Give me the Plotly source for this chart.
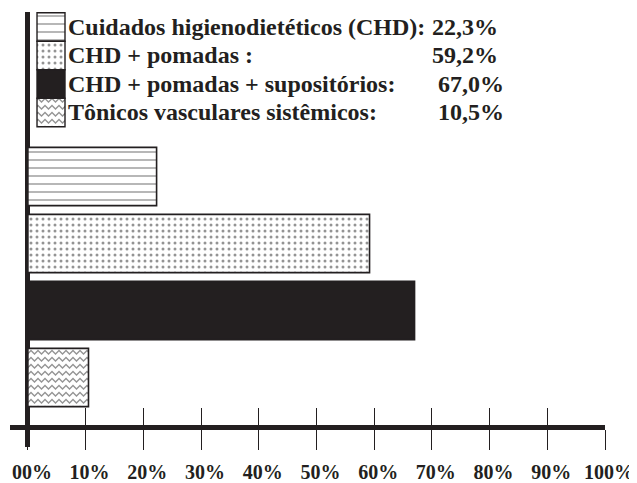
import plotly.graph_objects as go

# ---- data ----
categories = ["Cuidados higienodietéticos (CHD):", "CHD + pomadas :",
              "CHD + pomadas + supositórios:", "Tônicos vasculares sistêmicos:"]
values = [22.3, 59.2, 67.0, 10.5]
tick_values = [0, 10, 20, 30, 40, 50, 60, 70, 80, 90, 100]
tick_labels = ["00%", "10%", "20%", "30%", "40%", "50%", "60%", "70%", "80%", "90%", "100%"]

DARK = "#231f20"
FONT = "Liberation Serif"

wave_path = ("M0,1.5 L3.5,5 L7,1.5 L10.5,5 L14,1.5 L14,3.5 L10.5,7 L7,3.5 L3.5,7 L0,3.5 Z "
             "M0,8.5 L3.5,12 L7,8.5 L10.5,12 L14,8.5 L14,10.5 L10.5,14 L7,10.5 L3.5,14 L0,10.5 Z")


def make_patterns():
    pats = [
        dict(shape="-", size=8, solidity=0.17, fgcolor="#2a2a2a", bgcolor="white"),
        dict(shape=".", size=6, solidity=0.2, fgcolor="#2a2a2a", bgcolor="white"),
        dict(shape="", fgcolor=DARK, bgcolor=DARK),
    ]
    try:
        go.bar.marker.Pattern(path=wave_path, size=14, solidity=0.3)
        pats.append(dict(path=wave_path, size=14, solidity=0.3, fgcolor="#2a2a2a", bgcolor="white"))
    except Exception:
        pats.append(dict(shape="x", size=8, solidity=0.15, fgcolor="#444444", bgcolor="white"))
    return pats


patterns = make_patterns()
fills = ["white", "white", DARK, "white"]

fig = go.Figure()

# main bars
for i, (cat, val) in enumerate(zip(categories, values)):
    fig.add_trace(go.Bar(
        y=[cat], x=[val], orientation="h", base=0, width=0.87,
        marker=dict(color=fills[i], pattern=patterns[i],
                    line=dict(color=DARK, width=1.6)),
        showlegend=False, hoverinfo="skip", xaxis="x", yaxis="y",
    ))

# legend keys (swatches) drawn on an overlay axis
SW_BASE, SW_LEN = 1.58, 4.85
for i, cat in enumerate(categories):
    fig.add_trace(go.Bar(
        y=[cat], x=[SW_LEN], base=SW_BASE, orientation="h", width=1.0,
        marker=dict(color=fills[i], pattern=patterns[i],
                    line=dict(color=DARK, width=1.4)),
        showlegend=False, hoverinfo="skip", xaxis="x2", yaxis="y2",
    ))

annotations = []
value_right = [81.8, 81.8, 82.8, 82.8]
for i, (cat, val) in enumerate(zip(categories, values)):
    annotations.append(dict(
        x=6.65, y=cat, xref="x2", yref="y2", text=cat, showarrow=False,
        xanchor="left", yanchor="middle", yshift=0,
        font=dict(family=FONT, size=24, color=DARK, weight="bold"),
    ))
    annotations.append(dict(
        x=value_right[i], y=cat, xref="x2", yref="y2",
        text=f"{val:.1f}%".replace(".", ","), showarrow=False,
        xanchor="right", yanchor="middle", yshift=0,
        font=dict(family=FONT, size=24, color=DARK, weight="bold"),
    ))

XR = [-3.1, 100]
AX_POS = 0.046

fig.update_layout(
    width=637, height=483,
    margin=dict(l=2, r=40, t=4, b=44, autoexpand=False),
    paper_bgcolor="white", plot_bgcolor="white",
    barmode="overlay",
    xaxis=dict(range=XR, tickvals=tick_values, ticktext=tick_labels,
               ticks="outside", ticklen=20, tickwidth=1.3, tickcolor=DARK,
               showline=True, linewidth=4.5, linecolor=DARK,
               zeroline=True, zerolinewidth=4.5, zerolinecolor=DARK,
               showgrid=False, anchor="free", position=AX_POS, automargin=False,
               ticklabelstandoff=5, ticklabelshift=4,
               tickfont=dict(family=FONT, size=20, color=DARK, weight="bold")),
    xaxis2=dict(range=XR, overlaying="x", anchor="free", position=AX_POS,
                tickvals=tick_values[1:], ticks="inside", ticklen=19, tickwidth=1.3,
                tickcolor=DARK, showticklabels=False, showline=False,
                zeroline=False, showgrid=False, automargin=False),
    yaxis=dict(type="category", categoryorder="array", categoryarray=categories,
               range=[4.037, -2.455], showticklabels=False, showgrid=False,
               zeroline=False, showline=False, ticks="", automargin=False),
    yaxis2=dict(type="category", categoryorder="array", categoryarray=categories,
                range=[14.737, -0.526], overlaying="y", anchor="x2",
                showticklabels=False, showgrid=False, zeroline=False,
                showline=False, ticks="", automargin=False),
    annotations=annotations,
)

fig.write_html("out.html")
